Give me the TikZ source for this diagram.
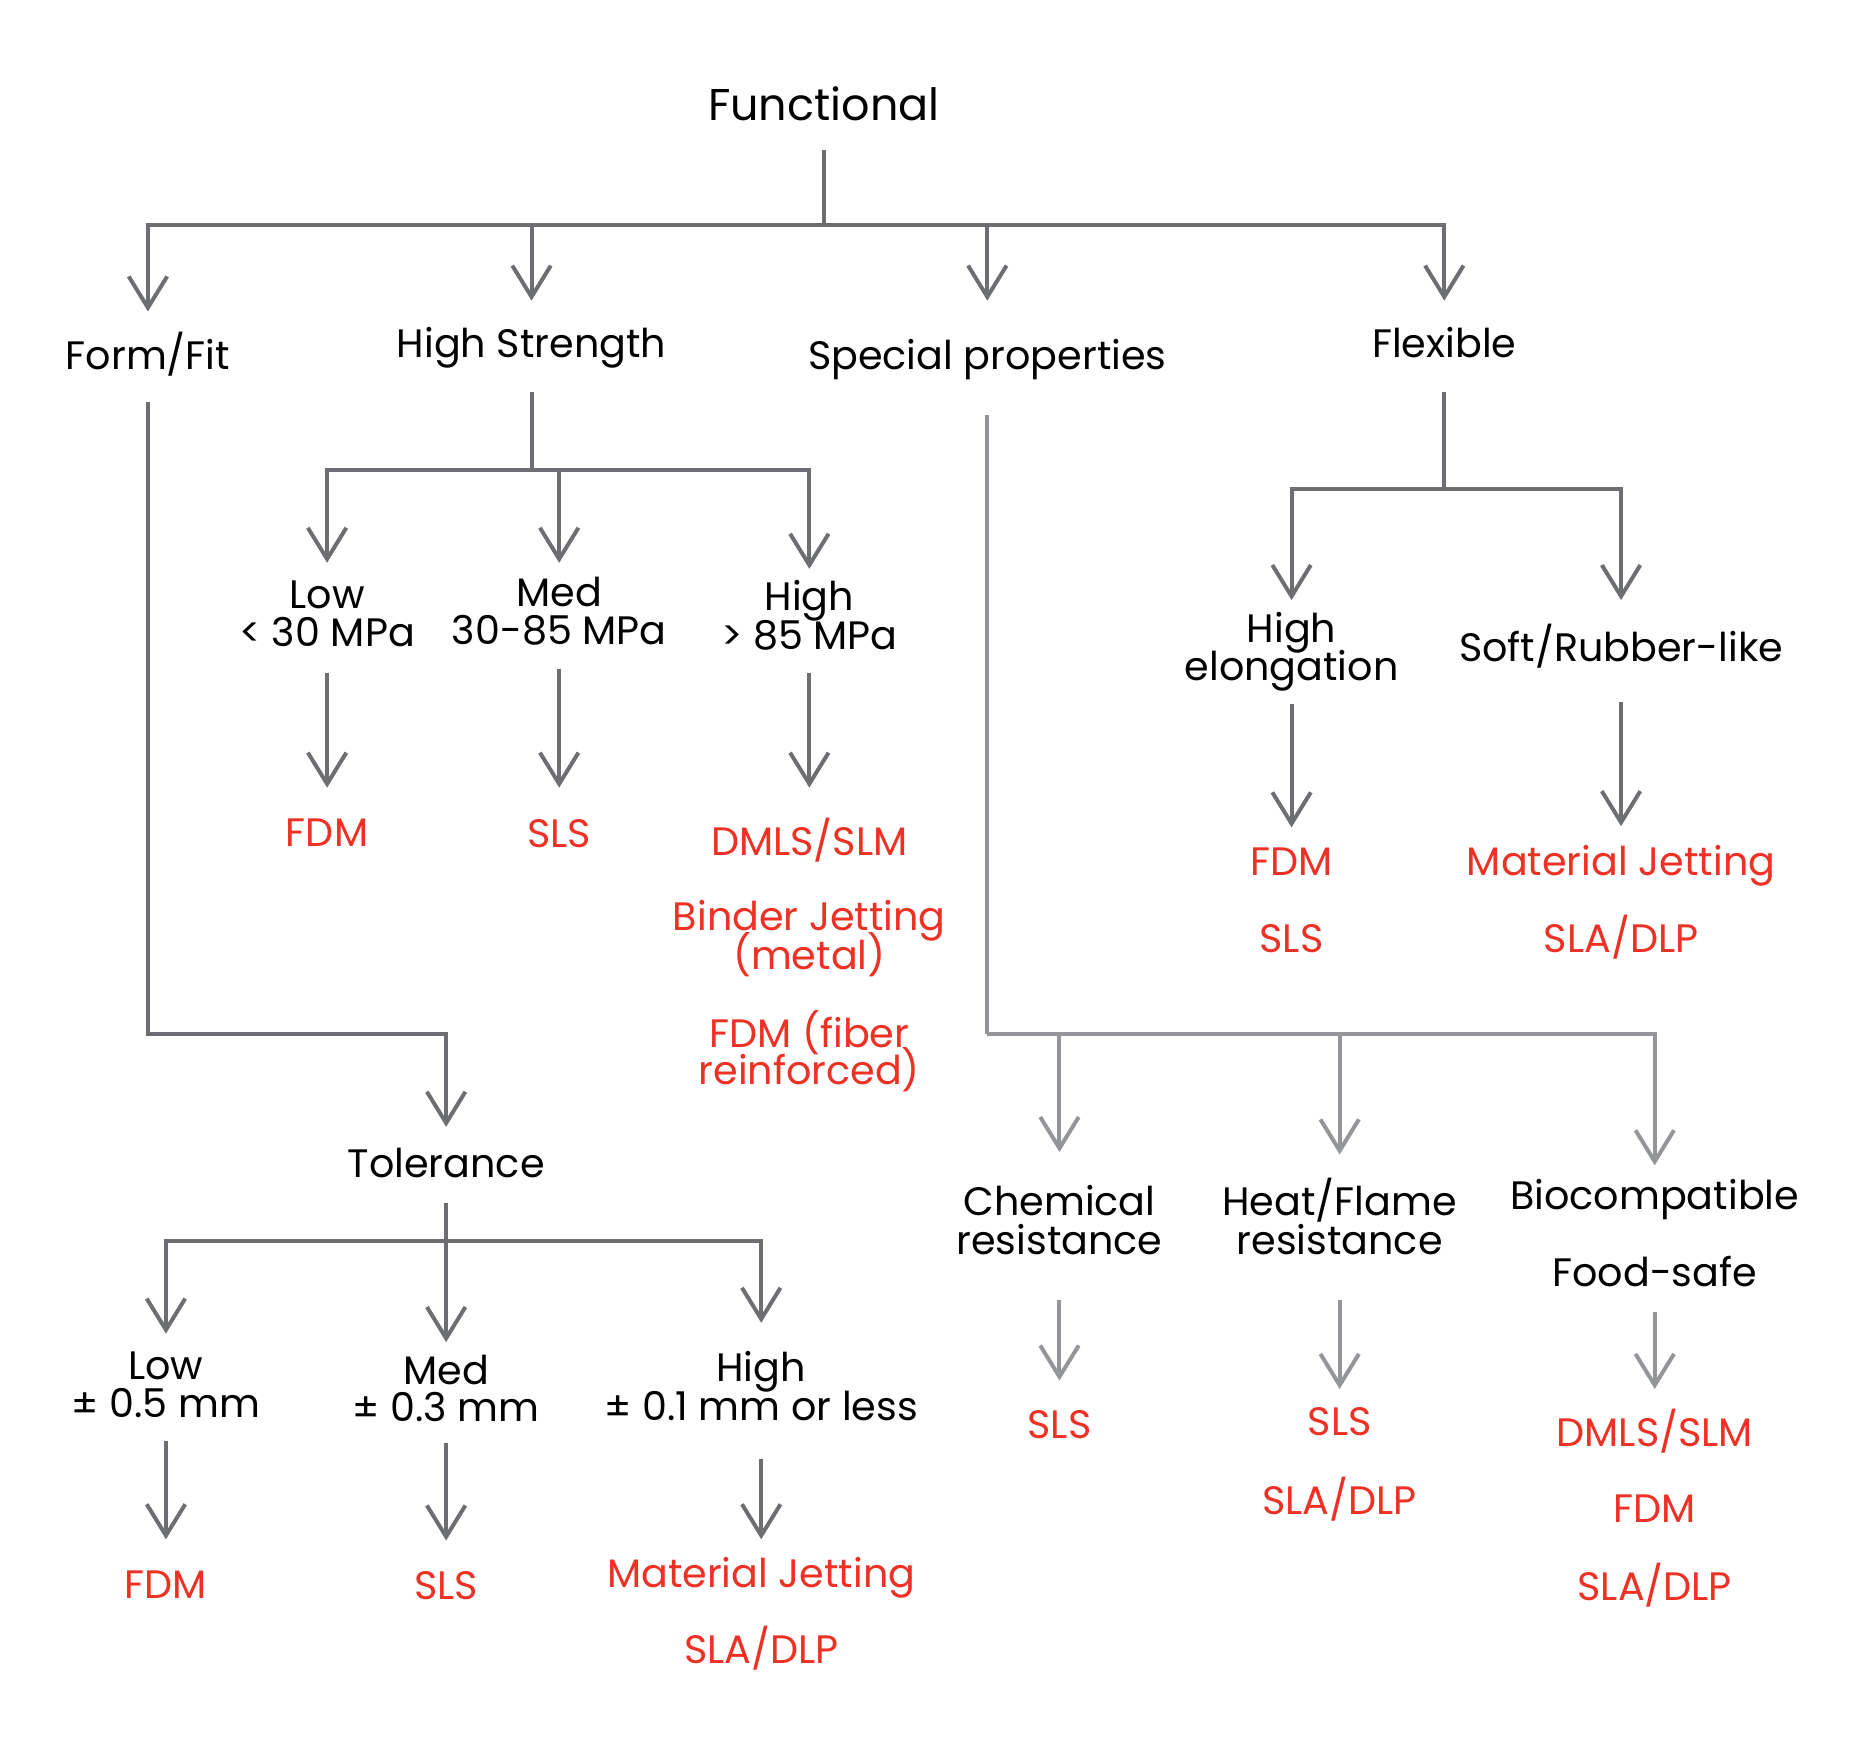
\documentclass[tikz,border=0pt]{standalone}
\usepackage{fontspec}
\setmainfont{Poppins}
\usetikzlibrary{arrows.meta}
\definecolor{ln}{HTML}{6D6E71}
\definecolor{lnl}{HTML}{939598}
\definecolor{rd}{HTML}{EE3124}
\begin{document}
\begin{tikzpicture}[x=1pt,y=-1pt,
  lab/.style={anchor=base,inner sep=0pt,font=\fontsize{33}{33}\selectfont},
  blk/.style={lab,text=black},
  redt/.style={lab,text=rd},
  conn/.style={draw=ln,line width=3.3pt},
  arr/.style={conn,-{Straight Barb[length=26pt,width=32pt]}},
  lconn/.style={conn,draw=lnl},
  larr/.style={arr,draw=lnl}]
\useasboundingbox (0,0) rectangle (1560,1466);
% ---------- level 0 / 1
\node[blk,font=\fontsize{37}{37}\selectfont] (fun) at (685,100) {Functional};
\node[blk] (ff) at (123,307) {Form/Fit};
\node[blk] (hs) at (442,297) {High Strength};
\node[blk] (sp) at (821,307) {Special properties};
\node[blk] (fx) at (1201,297) {Flexible};
\coordinate (funS) at (685,125);
\coordinate (funB) at (685,187);
\coordinate (ffT) at (123,259);
\coordinate (hsT) at (442,250);
\coordinate (spT) at (821,250);
\coordinate (fxT) at (1201,250);
\draw[conn] (funS) -- (funB);
\draw[arr] (funB) -| (ffT);
\draw[arr] (funB) -| (hsT);
\draw[arr] (funB) -| (spT);
\draw[arr] (funB) -| (fxT);
% ---------- High strength
\node[blk] (hl1) at (272,506) {Low};
\node[blk] (hl2) at (272,538) {< 30 MPa};
\node[blk] (hm1) at (465,504) {Med};
\node[blk] (hm2) at (465,536) {30-85 MPa};
\node[blk] (hh1) at (673,508) {High};
\node[blk] (hh2) at (673,540) {> 85 MPa};
\coordinate (hsS) at (442,326);
\coordinate (hsB) at (442,391);
\coordinate (hlT) at (272,468);
\coordinate (hmT) at (465,468);
\coordinate (hhT) at (673,473);
\draw[conn] (hsS) -- (hsB);
\draw[arr] (hsB) -| (hlT);
\draw[arr] (hsB) -| (hmT);
\draw[arr] (hsB) -| (hhT);
\node[redt] (hlr) at (272,704) {FDM};
\node[redt] (hmr) at (465,705) {SLS};
\node[redt] (hhr1) at (673,711) {DMLS/SLM};
\node[redt] (hhr2) at (673,774) {Binder Jetting};
\node[redt] (hhr3) at (673,806) {(metal)};
\node[redt] (hhr4) at (673,871) {FDM (fiber};
\node[redt] (hhr5) at (673,902) {reinforced)};
\coordinate (hlS) at (272,560); \coordinate (hlE) at (272,655);
\coordinate (hmS) at (465,556); \coordinate (hmE) at (465,655);
\coordinate (hhS) at (673,560); \coordinate (hhE) at (673,655);
\draw[arr] (hlS) -- (hlE);
\draw[arr] (hmS) -- (hmE);
\draw[arr] (hhS) -- (hhE);
% ---------- Form/Fit -> Tolerance
\node[blk] (tol) at (371,979) {Tolerance};
\coordinate (ffS) at (123,334);
\coordinate (ffC) at (123,860);
\coordinate (tolT) at (371,937);
\draw[arr] (ffS) -- (ffC) -| (tolT);
\node[blk] (tl1) at (138,1147) {Low};
\node[blk] (tl2) at (138,1179) {± 0.5 mm};
\node[blk] (tm1) at (371,1151) {Med};
\node[blk] (tm2) at (371,1182) {± 0.3 mm};
\node[blk] (th1) at (633,1149) {High};
\node[blk] (th2) at (633,1181) {± 0.1 mm or less};
\coordinate (tolS) at (371,1000);
\coordinate (tolB) at (371,1032);
\coordinate (tlT) at (138,1109);
\coordinate (tmT) at (371,1116);
\coordinate (thT) at (633,1100);
\draw[arr] (tolS) -- (tmT);
\draw[arr] (tolB) -| (tlT);
\draw[arr] (tolB) -| (thT);
\node[redt] (tlr) at (138,1329) {FDM};
\node[redt] (tmr) at (371,1330) {SLS};
\node[redt] (thr1) at (633,1320) {Material Jetting};
\node[redt] (thr2) at (633,1383) {SLA/DLP};
\coordinate (tlS) at (138,1198); \coordinate (tlE) at (138,1280);
\coordinate (tmS) at (371,1200); \coordinate (tmE) at (371,1281);
\coordinate (thS) at (633,1213); \coordinate (thE) at (633,1280);
\draw[arr] (tlS) -- (tlE);
\draw[arr] (tmS) -- (tmE);
\draw[arr] (thS) -- (thE);
% ---------- Special properties
\node[blk] (sc1) at (881,1011) {Chemical};
\node[blk] (sc2) at (881,1043) {resistance};
\node[blk] (sh1) at (1114,1011) {Heat/Flame};
\node[blk] (sh2) at (1114,1043) {resistance};
\node[blk] (sb1) at (1376,1006) {Biocompatible};
\node[blk] (sb2) at (1376,1070) {Food-safe};
\coordinate (spS) at (821,345);
\coordinate (spB) at (821,860);
\coordinate (scT) at (881,958);
\coordinate (shT) at (1114,960);
\coordinate (sbT) at (1376,969);
\draw[lconn] (spS) -- (spB);
\draw[larr] (spB) -| (scT);
\draw[larr] (spB) -| (shT);
\draw[larr] (spB) -| (sbT);
\node[redt] (scr) at (881,1196) {SLS};
\node[redt] (shr1) at (1114,1194) {SLS};
\node[redt] (shr2) at (1114,1259) {SLA/DLP};
\node[redt] (sbr1) at (1376,1203) {DMLS/SLM};
\node[redt] (sbr2) at (1376,1266) {FDM};
\node[redt] (sbr3) at (1376,1331) {SLA/DLP};
\coordinate (scS) at (881,1081); \coordinate (scE) at (881,1148);
\coordinate (shS) at (1114,1081); \coordinate (shE) at (1114,1155);
\coordinate (sbS) at (1376,1091); \coordinate (sbE) at (1376,1155);
\draw[larr] (scS) -- (scE);
\draw[larr] (shS) -- (shE);
\draw[larr] (sbS) -- (sbE);
% ---------- Flexible
\node[blk] (fe1) at (1074,534) {High};
\node[blk] (fe2) at (1074,566) {elongation};
\node[blk] (fs) at (1348,550) {Soft/Rubber-like};
\coordinate (fxS) at (1201,326);
\coordinate (fxB) at (1201,407);
\coordinate (feT) at (1074,499);
\coordinate (fsT) at (1348,499);
\draw[conn] (fxS) -- (fxB);
\draw[arr] (fxB) -| (feT);
\draw[arr] (fxB) -| (fsT);
\node[redt] (fer1) at (1074,728) {FDM};
\node[redt] (fer2) at (1074,792) {SLS};
\node[redt] (fsr1) at (1348,728) {Material Jetting};
\node[redt] (fsr2) at (1348,792) {SLA/DLP};
\coordinate (feS) at (1074,585); \coordinate (feE) at (1074,688);
\coordinate (fsS) at (1348,584); \coordinate (fsE) at (1348,687);
\draw[arr] (feS) -- (feE);
\draw[arr] (fsS) -- (fsE);
\end{tikzpicture}
\end{document}
